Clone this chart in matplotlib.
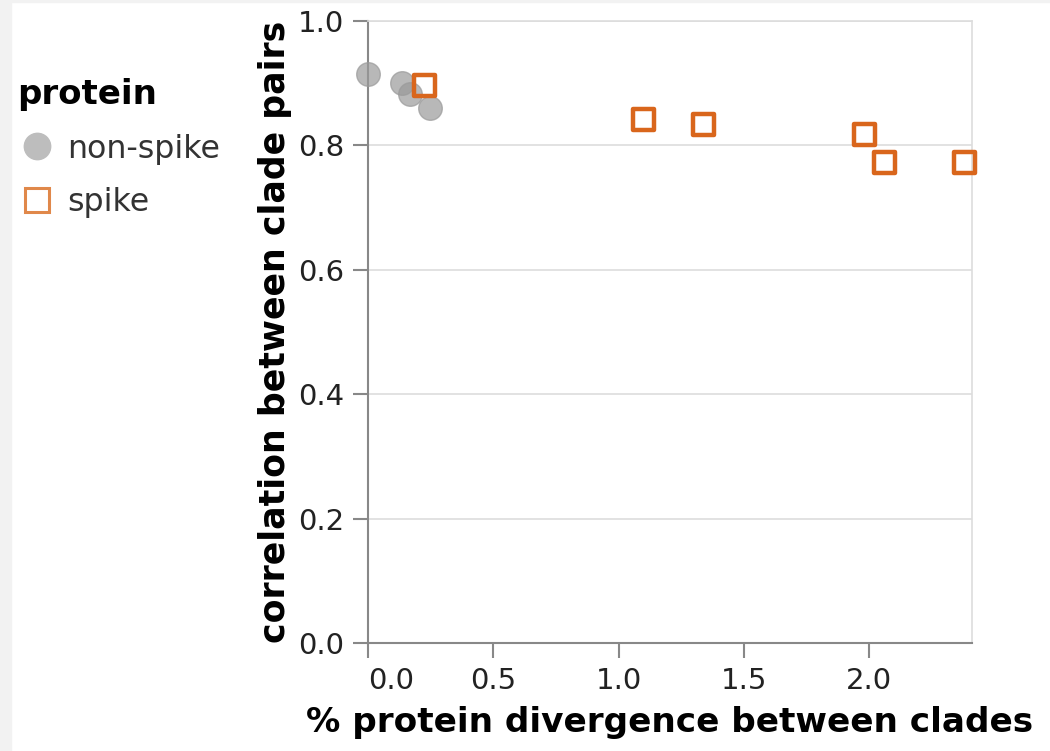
import matplotlib.pyplot as plt
from matplotlib.patches import Rectangle
from matplotlib.lines import Line2D

# non-spike proteins
ns_div = [0.0, 0.135, 0.168, 0.247]
ns_corr = [0.914, 0.901, 0.883, 0.860]

# spike
sp_div = [0.228, 1.10, 1.34, 1.98, 2.06, 2.38]
sp_corr = [0.896, 0.841, 0.834, 0.817, 0.773, 0.773]

grey = '#9a9a9a'
orange = '#d9661c'

fig = plt.figure(figsize=(10.5, 7.51), dpi=100)
fig.patches.append(Rectangle((0, 0), 11 / 1050, 1, transform=fig.transFigure,
                             color='#f2f2f2', zorder=0))
fig.patches.append(Rectangle((0, 1 - 2 / 751), 1, 2 / 751, transform=fig.transFigure,
                             color='#f2f2f2', zorder=0))

ax = fig.add_axes([0.3502, 0.1438, 0.5757, 0.8283])
ax.scatter(ns_div, ns_corr, s=17**2, color=grey, alpha=0.7, edgecolor=grey,
           linewidth=1, zorder=3, clip_on=False)
ax.scatter(sp_div, sp_corr, s=15**2, marker='s', facecolor='none', edgecolor=orange,
           linewidth=3.2, zorder=4, clip_on=False)

ax.set_xlim(0, 2.41)
ax.set_ylim(0, 1.0)
ax.set_xticks([0.0, 0.5, 1.0, 1.5, 2.0])
ax.set_yticks([0.0, 0.2, 0.4, 0.6, 0.8, 1.0])
ax.set_xticklabels(['0.0', '0.5', '1.0', '1.5', '2.0'])
ax.set_yticklabels(['0.0', '0.2', '0.4', '0.6', '0.8', '1.0'])
xl = ax.get_xticklabels()
xl[0].set_ha('left')

ax.grid(True, axis='y', color='#dddddd', linewidth=1.2, zorder=0)
ax.set_axisbelow(True)
for s in ['top', 'right']:
    ax.spines[s].set_color('#dddddd')
    ax.spines[s].set_linewidth(1.2)
for s in ['left', 'bottom']:
    ax.spines[s].set_color('#888888')
    ax.spines[s].set_linewidth(1.5)
ax.tick_params(length=11, width=1.5, color='#888888', labelsize=21,
               labelcolor='#222222', pad=6)

ax.set_xlabel('% protein divergence between clades', fontsize=24.7,
              fontweight='bold', labelpad=8)
ax.set_ylabel('correlation between clade pairs', fontsize=25,
              fontweight='bold', labelpad=4)

handles = [
    Line2D([], [], marker='o', linestyle='none', markersize=19,
           markerfacecolor='#bdbdbd', markeredgecolor='#bdbdbd'),
    Line2D([], [], marker='s', linestyle='none', markersize=17,
           markerfacecolor='none', markeredgecolor='#e0884a', markeredgewidth=2.2),
]
leg = fig.legend(handles, ['non-spike', 'spike'], title='protein',
                 loc='upper left', bbox_to_anchor=(-5 / 1050, 0.926),
                 frameon=False, fontsize=22.8, handlelength=1.25,
                 handletextpad=0.33, labelspacing=0.72, alignment='left',
                 borderaxespad=0.3)
leg.get_title().set_fontsize(24.5)
leg.get_title().set_fontweight('bold')
for t in leg.get_texts():
    t.set_color('#333333')

fig.savefig('out.png', dpi=100)
